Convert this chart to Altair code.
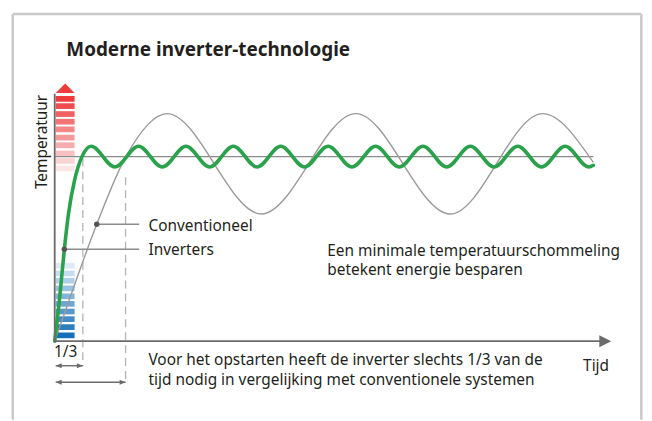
import altair as alt
import pandas as pd

# ---------------- data (time / temperature units) ----------------
title_text = "Moderne inverter-technologie"
y_title = "Temperatuur"
x_title = "Tijd"
label_conventional = "Conventioneel"
label_inverter = "Inverters"
swing_note = ["Een minimale temperatuurschommeling", "betekent energie besparen"]
start_note = ["Voor het opstarten heeft de inverter slechts 1/3 van de",
              "tijd nodig in vergelijking met conventionele systemen"]
ratio_label = "1/3"

setpoint = 37.15
setpoint_until = 108.4

inverter_time = [0.0, 0.86, 1.94, 2.74, 4.0, 5.46, 7.34, 12.11, 16.88, 21.65, 26.42,
                 31.19, 35.96, 40.73, 45.5, 50.27, 55.04, 59.81, 64.58, 69.35, 74.12,
                 78.89, 83.66, 88.43, 93.2, 97.97, 102.74, 107.51, 108.4]
inverter_temp = [0.0, 7.4, 18.5, 25.4, 32.4, 37.1, 39.25, 35.05, 39.25, 35.05, 39.25,
                 35.05, 39.25, 35.05, 39.25, 35.05, 39.25, 35.05, 39.25, 35.05, 39.25,
                 35.05, 39.25, 35.05, 39.25, 35.05, 39.25, 35.05, 35.4]

conventional_time = [0.0, 2.6, 8.46, 14.34, 22.6, 41.6, 60.6, 79.6, 98.2, 108.4]
conventional_temp = [0.0, 7.4, 23.54, 37.2, 45.8, 25.6, 45.8, 25.6, 45.8, 36.0]

ready_inverter = 5.66
ready_conventional = 14.26

marker_time = [8.46, 1.94]          # conventional, inverter
marker_temp = [23.54, 18.5]

heat_levels = [48.2, 46.74, 45.14, 43.6, 42.06, 40.4, 38.86, 37.2, 35.7, 34.2]
cool_levels = [14.6, 13.06, 11.6, 10.06, 8.46, 6.94, 5.4, 3.86, 2.26, 0.6]

# ---------------- layout ----------------
W, H = 640, 413
XDOM = [-9.4, 118.6]
YDOM = [-15.8, 66.8]
FONT = "Noto Sans"
TXT = "#231f20"


def X(f="t"):
    return alt.X(f"{f}:Q", scale=alt.Scale(domain=XDOM, nice=False, zero=False), axis=None)


def Y(f="T"):
    return alt.Y(f"{f}:Q", scale=alt.Scale(domain=YDOM, nice=False, zero=False), axis=None)


def X2(f="t2"):
    return alt.X2(f"{f}:Q")


def Y2(f="T2"):
    return alt.Y2(f"{f}:Q")


layers = []

# frame
frame = pd.DataFrame({
    "t": [-8.44, 118.06, -8.44],
    "t2": [-8.44, 118.06, 118.06],
    "T": [65.84, 65.84, 65.84],
    "T2": [YDOM[0], YDOM[0], 65.84],
})
layers.append(alt.Chart(frame).mark_rule(color="#c9c9c9", strokeWidth=2.5).encode(
    x=X(), x2=X2(), y=Y(), y2=Y2()))

# thermometer bars
BAR_T0, BAR_T1, BAR_H = 0.2, 4.0, 1.15
heat = pd.DataFrame({"t": BAR_T0, "t2": BAR_T1, "T": heat_levels,
                     "T2": [v + BAR_H for v in heat_levels], "k": list(range(10))})
cool = pd.DataFrame({"t": BAR_T0, "t2": BAR_T1, "T": cool_levels,
                     "T2": [v + BAR_H for v in cool_levels], "k": list(range(10))})
heat_layer = alt.Chart(heat).mark_rect().encode(
    x=X(), x2=X2(), y=Y(), y2=Y2(),
    color=alt.Color("k:Q", scale=alt.Scale(domain=[0, 9], range=["#ee3b3b", "#fbe6e6"],
                                           interpolate="rgb"), legend=None))
cool_layer = alt.Chart(cool).mark_rect().encode(
    x=X(), x2=X2(), y=Y(), y2=Y2(),
    fill=alt.Fill("k:Q", scale=alt.Scale(domain=[0, 9], range=["#dcebf6", "#1670b8"],
                                         interpolate="rgb"), legend=None))
layers += [heat_layer, cool_layer]

# red arrow tip on top of thermometer
tip = pd.DataFrame({"t": [2.1], "T": [50.9]})
layers.append(alt.Chart(tip).mark_point(shape="M0,-0.5L1,0.5L-1,0.5Z", filled=True,
                                        color="#ee3b3b", opacity=1, size=361).encode(x=X(), y=Y()))

# set point line
sp = pd.DataFrame({"t": [0.0], "t2": [setpoint_until], "T": [setpoint]})
layers.append(alt.Chart(sp).mark_rule(color="#8c8c8c", strokeWidth=1.3).encode(
    x=X(), x2=X2(), y=Y()))

# dashed markers
dash = pd.DataFrame({"t": [ready_inverter, ready_conventional],
                     "T": [36.8, 33.0], "T2": [-5.0, -8.6]})
layers.append(alt.Chart(dash).mark_rule(color="#b3b3b3", strokeWidth=1.3,
                                        strokeDash=[8, 5]).encode(x=X(), y=Y(), y2=Y2()))

# curves
conv = pd.DataFrame({"t": conventional_time, "T": conventional_temp})
inv = pd.DataFrame({"t": inverter_time, "T": inverter_temp})
layers.append(alt.Chart(conv).mark_line(color="#9a9a9a", strokeWidth=1.4,
                                        interpolate="monotone").encode(x=X(), y=Y()))
layers.append(alt.Chart(inv).mark_line(color="#2aa24c", strokeWidth=3.6,
                                       interpolate="monotone", strokeCap="round").encode(x=X(), y=Y()))

# axes
axes = pd.DataFrame({"t": [0.0, 0.0], "t2": [0.0, 110.4], "T": [49.8, 0.0], "T2": [0.0, 0.0]})
layers.append(alt.Chart(axes).mark_rule(color="#6b6b6b", strokeWidth=1.8).encode(
    x=X(), x2=X2(), y=Y(), y2=Y2()))
xarrow = pd.DataFrame({"t": [110.8], "T": [0.0]})
layers.append(alt.Chart(xarrow).mark_point(shape="M1,0L-1,-1L-1,1Z", filled=True,
                                           color="#6b6b6b", opacity=1, size=144).encode(x=X(), y=Y()))

# leader lines and dots
lead = pd.DataFrame({"t": marker_time, "t2": [17.0, 17.0], "T": marker_temp})
layers.append(alt.Chart(lead).mark_rule(color="#8c8c8c", strokeWidth=1.5).encode(
    x=X(), x2=X2(), y=Y()))
layers.append(alt.Chart(lead).mark_circle(color="#555555", opacity=1, size=30).encode(
    x=X(), y=Y()))

# double arrows
arr = pd.DataFrame({"t": [0.2, 0.2], "t2": [ready_inverter, ready_conventional],
                    "T": [-4.94, -8.26]})
layers.append(alt.Chart(arr).mark_rule(color="#6b6b6b", strokeWidth=1.4).encode(
    x=X(), x2=X2(), y=Y()))
arr_l = pd.DataFrame({"t": [0.8, 0.8], "T": [-4.94, -8.26]})
arr_r = pd.DataFrame({"t": [ready_inverter - 0.6, ready_conventional - 0.6], "T": [-4.94, -8.26]})
layers.append(alt.Chart(arr_l).mark_point(shape="M-1,0L1,-0.8L1,0.8Z", filled=True,
                                          color="#6b6b6b", opacity=1, size=36).encode(x=X(), y=Y()))
layers.append(alt.Chart(arr_r).mark_point(shape="M1,0L-1,-0.8L-1,0.8Z", filled=True,
                                          color="#6b6b6b", opacity=1, size=36).encode(x=X(), y=Y()))

# texts
body = pd.DataFrame({
    "text": [label_conventional, label_inverter, swing_note[0], swing_note[1],
             start_note[0], start_note[1], x_title, ratio_label],
    "t": [18.86, 18.86, 54.86, 54.86, 18.86, 18.86, 106.34, -0.14],
    "T": [22.26, 17.4, 17.2, 13.4, -4.74, -8.8, -5.94, -3.26],
})
layers.append(alt.Chart(body).mark_text(font=FONT, fontSize=15.5, color=TXT, align="left",
                                        baseline="alphabetic").encode(x=X(), y=Y(), text="text:N"))

ylab = pd.DataFrame({"text": [y_title], "t": [-1.5], "T": [40.1]})
layers.append(alt.Chart(ylab).mark_text(font=FONT, fontSize=15.5, color=TXT, align="center",
                                        baseline="alphabetic", angle=270).encode(
    x=X(), y=Y(), text="text:N"))

ttl = pd.DataFrame({"text": [title_text], "t": [2.34], "T": [57.34]})
layers.append(alt.Chart(ttl).mark_text(font=FONT, fontSize=19, fontWeight="bold", color=TXT,
                                       align="left", baseline="alphabetic").encode(
    x=X(), y=Y(), text="text:N"))

chart = alt.layer(*layers).resolve_scale(color="independent", fill="independent").properties(
    width=W, height=H, padding=0, autosize=alt.AutoSizeParams(type="none")
).configure_view(strokeWidth=0)

chart.save("out.html", embed_options={"renderer": "svg", "actions": False})
